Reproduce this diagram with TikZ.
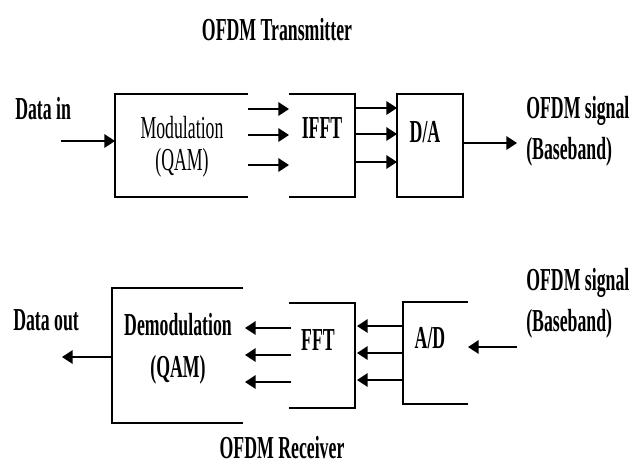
\documentclass[tikz,border=0pt]{standalone}
\usepackage{fontspec}
\setmainfont{Liberation Serif}[FakeStretch=0.555]
\usetikzlibrary{arrows.meta}
\begin{document}
\begin{tikzpicture}[x=0.75pt,y=-0.75pt,
  blk/.style={inner sep=0pt,outer sep=0pt},
  wall/.style={line width=1.1pt},
  arr/.style={line width=1.8pt,-{Triangle[length=8pt,width=10pt]}},
  lbl/.style={font=\fontsize{24pt}{27pt}\selectfont\bfseries,inner sep=0pt},
  rlbl/.style={font=\fontsize{24pt}{27pt}\selectfont,inner sep=0pt}]
\useasboundingbox[fill=white] (0,0) rectangle (630,464);

% titles
\node[lbl] (ttx) at (277,30) {OFDM Transmitter};
\node[lbl] (trx) at (282,448) {OFDM Receiver};

% transmitter blocks
\node[blk,minimum width=99.75pt,minimum height=77.25pt] (mod) at (181.5,145.5) {};
\node[blk,minimum width=49.5pt,minimum height=77.25pt] (ifft) at (322,145.5) {};
\node[blk,minimum width=49.5pt,minimum height=77.25pt] (da) at (430,145.5) {};
\draw[wall] (mod.north east) -- (mod.north west) -- (mod.south west) -- (mod.south east);
\draw[wall] (ifft.north west) -- (ifft.north east) -- (ifft.south east) -- (ifft.south west);
\draw[wall] (da.north west) rectangle (da.south east);

\node[rlbl] (modt) at (182,128) {Modulation};
\node[rlbl] (modq) at (182,163) {(QAM)};
\node[lbl] (ifftt) at (322,128) {IFFT};
\node[lbl] (dat) at (425,132) {D/A};

\node[lbl,anchor=base west] (din) at (15,119) {Data in};
\coordinate (dins) at (61,141);
\draw[arr] (dins) -- (dins -| mod.west);
\foreach \yy in {109,135,165}{
  \draw[arr] (mod.east |- 0,\yy) -- (ifft.west |- 0,\yy);}
\foreach \yy in {108,134,162}{
  \draw[arr] (ifft.east |- 0,\yy) -- (da.west |- 0,\yy);}
\coordinate (dout) at (517,143);
\draw[arr] (da.east |- dout) -- (dout);
\node[lbl,anchor=base west] (sig1) at (526,118) {OFDM signal};
\node[lbl,anchor=base west] (bb1) at (526,159) {(Baseband)};

% receiver blocks
\node[blk,minimum width=98.25pt,minimum height=101.25pt] (dem) at (177.5,355.5) {};
\node[blk,minimum width=49.5pt,minimum height=78.75pt] (fft) at (322,355.5) {};
\node[blk,minimum width=48.75pt,minimum height=76.5pt] (ad) at (435.5,353) {};
\draw[wall] (dem.north east) -- (dem.north west) -- (dem.south west) -- (dem.south east);
\draw[wall] (fft.north west) -- (fft.north east) -- (fft.south east) -- (fft.south west);
\draw[wall] (ad.north east) -- (ad.north west) -- (ad.south west) -- (ad.south east);

\node[lbl] (demt) at (178,325) {Demodulation};
\node[lbl] (demq) at (178,370) {(QAM)};
\node[lbl] (fftt) at (318,340) {FFT};
\node[lbl] (adt) at (430,338) {A/D};

\node[lbl,anchor=base west] (sig2) at (526,290) {OFDM signal};
\node[lbl,anchor=base west] (bb2) at (526,331) {(Baseband)};
\coordinate (ain) at (517,347);
\draw[arr] (ain) -- (ain -| ad.east);
\foreach \yy in {326,353,380}{
  \draw[arr] (ad.west |- 0,\yy) -- (357,\yy);}
\foreach \yy in {328,355,382}{
  \draw[arr] (291,\yy) -- (245,\yy);}
\node[lbl,anchor=base west] (dot) at (13,330) {Data out};
\coordinate (douts) at (62,357);
\draw[arr] (dem.west |- douts) -- (douts);
\end{tikzpicture}
\end{document}
